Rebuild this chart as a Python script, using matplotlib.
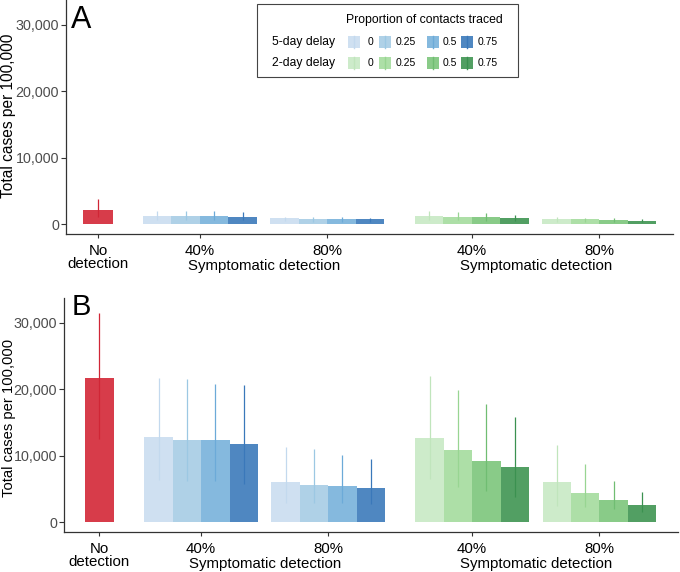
import matplotlib
matplotlib.use('Agg')
import matplotlib.pyplot as plt
from matplotlib.patches import Rectangle
from matplotlib.transforms import blended_transform_factory

plt.rcParams['font.family'] = ['Liberation Sans', 'DejaVu Sans']

# categories
groups = ['No\ndetection', '40%', '80%', '40%', '80%']
traced = ['0', '0.25', '0.5', '0.75']
delays = ['5-day delay', '2-day delay']
yticks = [0, 10000, 20000, 30000]
ytick_labels = ['0', '10,000', '20,000', '30,000']

# panel A -- no detection: mean, low, high
a_none = [2150, 1140, 3800]
# 40% then 80% symptomatic detection; traced 0 / 0.25 / 0.5 / 0.75
a_5d_mean = [1250, 1250, 1250, 1150, 900, 800, 800, 800]
a_5d_low = [700, 700, 680, 650, 450, 430, 420, 400]
a_5d_high = [2000, 2000, 2000, 1900, 1050, 1050, 1050, 1000]
a_2d_mean = [1250, 1100, 1050, 900, 800, 800, 700, 550]
a_2d_low = [700, 620, 580, 500, 420, 400, 360, 300]
a_2d_high = [2000, 1800, 1650, 1400, 1100, 950, 900, 800]

# panel B
b_none = [21740, 12480, 31430]
b_5d_mean = [12830, 12330, 12330, 11770, 6060, 5560, 5460, 5160]
b_5d_low = [6360, 6200, 6200, 5760, 2900, 2950, 2860, 2750]
b_5d_high = [21740, 21500, 20800, 20700, 11370, 10980, 10120, 9520]
b_2d_mean = [12680, 10870, 9270, 8320, 6060, 4410, 3300, 2550]
b_2d_low = [6460, 5260, 4660, 3850, 2500, 2300, 1950, 1600]
b_2d_high = [22000, 19950, 17740, 15790, 11670, 8770, 6210, 4600]

# colours
red_bar, red_line = '#d73c4a', '#d02636'
blue_bar = ['#cfe0f1', '#afd1e7', '#85b9de', '#4f87c1']
blue_line = ['#c3d9ee', '#9cc8e3', '#6caad8', '#3a78ba']
green_bar = ['#cdebca', '#addfa7', '#89cb88', '#529f63']
green_line = ['#c0e5bc', '#98d592', '#70bd72', '#3b9150']

centers = [0, 3.58, 8.05, 13.12, 17.6]
offsets = [-1.5, -0.5, 0.5, 1.5]


def draw_panel(ax, none, m5, lo5, hi5, m2, lo2, hi2, xlim):
    ax.bar(centers[0], none[0], width=1.05, color=red_bar, linewidth=0)
    ax.vlines(centers[0], none[1], none[2], color=red_line, lw=0.9, zorder=3)
    series = [(m5, lo5, hi5, blue_bar, blue_line, 1),
              (m2, lo2, hi2, green_bar, green_line, 3)]
    for means, lows, highs, cols, lcols, first in series:
        for g in range(2):
            for j in range(4):
                i = g * 4 + j
                x = centers[first + g] + offsets[j]
                ax.bar(x, means[i], width=1.0, color=cols[j], linewidth=0)
                ax.vlines(x, lows[i], highs[i], color=lcols[j], lw=0.9, zorder=3)

    ax.set_xlim(*xlim)
    ax.set_ylim(-1450, 33750)
    for s in ['top', 'right']:
        ax.spines[s].set_visible(False)
    for s in ['left', 'bottom']:
        ax.spines[s].set_color('#333333')
        ax.spines[s].set_linewidth(0.9)
    ax.set_yticks(yticks)
    ax.set_yticklabels(ytick_labels)
    ax.set_xticks(centers)
    ax.set_xticklabels(groups, linespacing=0.95)
    ax.tick_params(axis='y', length=3.5, width=0.8, color='#333333',
                   labelcolor='#4d4d4d', labelsize=10.3, pad=1.5)
    ax.tick_params(axis='x', length=3, width=0.8, color='#333333',
                   labelcolor='black', labelsize=10.8, pad=4)
    trans = blended_transform_factory(ax.transData, ax.transAxes)
    for a, b in [(1, 2), (3, 4)]:
        ax.text((centers[a] + centers[b]) / 2, -36 / 234, 'Symptomatic detection',
                transform=trans, ha='center', va='baseline', fontsize=10.8)


fig = plt.figure(figsize=(6.8, 5.72), dpi=100)
axA = fig.add_axes([66 / 680, 1 - 234 / 572, 607 / 680, 234 / 572])
axB = fig.add_axes([64 / 680, 40 / 572, 614 / 680, 234 / 572])

draw_panel(axA, a_none, a_5d_mean, a_5d_low, a_5d_high,
           a_2d_mean, a_2d_low, a_2d_high, (-1.12, 20.18))
draw_panel(axB, b_none, b_5d_mean, b_5d_low, b_5d_high,
           b_2d_mean, b_2d_low, b_2d_high, (-1.25, 20.37))

# axis titles and panel letters
fig.text(9 / 680, 1 - 116 / 572, 'Total cases per 100,000', rotation=90,
         ha='center', va='center', fontsize=11.2)
fig.text(9 / 680, 1 - 418 / 572, 'Total cases per 100,000', rotation=90,
         ha='center', va='center', fontsize=10.6)
fig.text(71 / 680, 1 - 28 / 572, 'A', fontsize=22, va='baseline')
fig.text(72 / 680, 1 - 315 / 572, 'B', fontsize=21, va='baseline')

# legend box, drawn by hand in figure pixels
W, H = 680, 572


def fx(px):
    return px / W


def fy(py):
    return 1 - py / H


fig.add_artist(Rectangle((fx(257), fy(77)), fx(261), 73 / H, transform=fig.transFigure,
                         facecolor='white', edgecolor='#444444', lw=0.8, zorder=5))
fig.text(fx(424), fy(20), 'Proportion of contacts traced', ha='center', va='center',
         fontsize=8.8, zorder=6)
key_x = [348, 379, 427, 461]
lab_x = [368, 396, 443, 478]
row_y = [42, 63]
for r, (name, cols, lcols) in enumerate(zip(delays, [blue_bar, green_bar],
                                             [blue_line, green_line])):
    fig.text(fx(272), fy(row_y[r]), name, ha='left', va='center', fontsize=8.7, zorder=6)
    for j in range(4):
        fig.add_artist(Rectangle((fx(key_x[j]), fy(row_y[r] + 6)), 12 / W, 12 / H,
                                 transform=fig.transFigure, facecolor=cols[j],
                                 edgecolor='none', zorder=6))
        fig.add_artist(plt.Line2D([fx(key_x[j] + 6)] * 2, [fy(row_y[r] + 6), fy(row_y[r] - 6)],
                                  transform=fig.transFigure, color=lcols[j], lw=1, zorder=7))
        fig.text(fx(lab_x[j]), fy(row_y[r]), traced[j], ha='left', va='center',
                 fontsize=7.5, zorder=6)

fig.savefig('out.png', dpi=100, facecolor='white')
